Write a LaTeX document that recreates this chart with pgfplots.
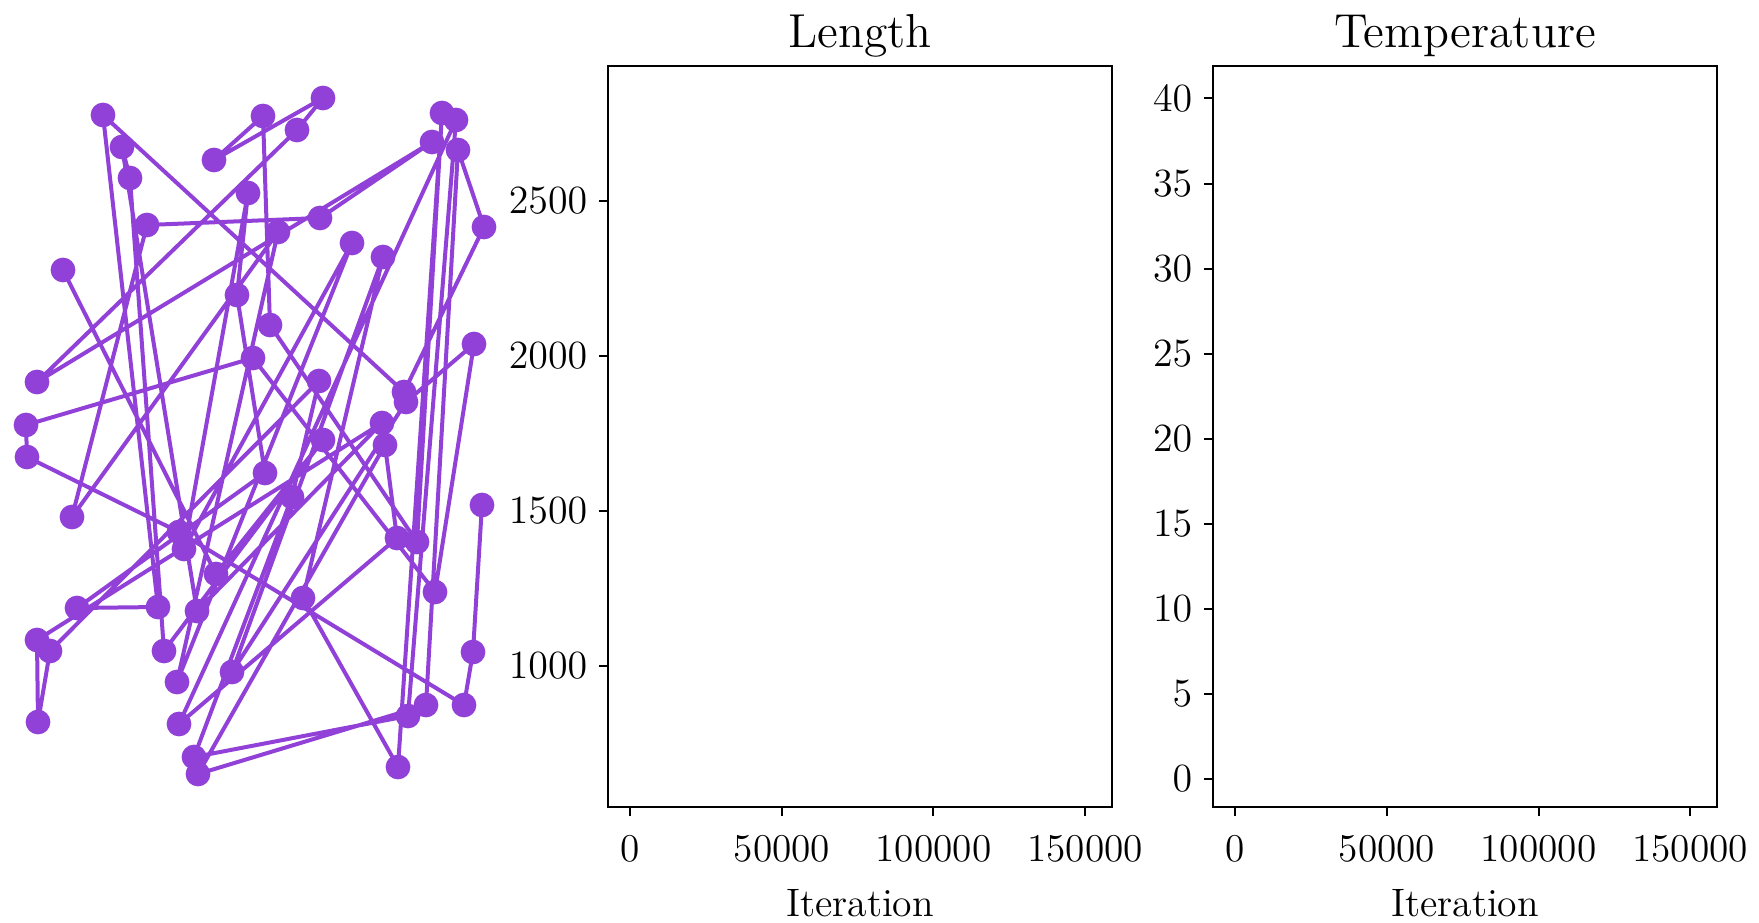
\documentclass[border=0pt]{standalone}
\usepackage{pgfplots}
\pgfplotsset{compat=1.18}
\definecolor{tour}{RGB}{145,65,215}
\pgfplotsset{
  panel/.style={
    anchor=south west, scale only axis, width=151.2pt, height=222.3pt,
    xmin=-7400, xmax=158900,
    axis line style={line width=0.6pt},
    tick align=outside, xtick pos=bottom, ytick pos=left,
    major tick length=2.7pt, tick style={black, line width=0.6pt},
    scaled ticks=false,
    /pgf/number format/1000 sep={},
    xtick={0,50000,100000,150000},
    xticklabels={0,50000,100000,150000},
    ticklabel style={font=\fontsize{11.8}{14}\selectfont},
    xticklabel style={yshift=-2.2pt},
    label style={font=\fontsize{11.9}{14}\selectfont},
    xlabel style={yshift=-1.2pt},
    title style={font=\fontsize{14.3}{17}\selectfont, yshift=-6.8pt},
    xlabel={Iteration},
  }
}
\begin{document}
\begin{tikzpicture}
\path[use as bounding box] (0,0) rectangle (527.7pt,276.6pt);
\begin{axis}[at={(0pt,0pt)}, anchor=south west, scale only axis,
  width=150pt, height=276.6pt, xmin=0, xmax=500, ymin=0, ymax=922,
  y dir=reverse, axis lines=none, clip=false]
\addplot[color=tour, line width=1.2pt, line join=round, line cap=round,
  mark=*, mark size=3.1pt,
  mark options={fill=tour, draw=none}] coordinates {
(63,270) (216,574) (323,440) (164,651) (130,178) (122,147) (197,611)
(382,423) (37,640) (38,722) (50,651) (319,381) (292,497) (194,757)
(408,716) (456,120) (179,724) (397,538) (385,445) (198,774) (426,705)
(458,150) (484,227) (404,392) (103,115) (158,607) (77,608) (265,473)
(237,295) (248,193) (184,549) (352,243) (177,682) (278,232) (72,517)
(147,225) (320,218) (432,142) (37,382) (297,130) (323,98) (214,160)
(263,116) (270,325) (417,542) (442,113) (398,767) (303,598) (383,257)
(232,672) (406,402) (474,344) (435,592) (253,358) (26,425) (27,457)
(179,532) (464,705) (473,652) (482,505)
};
\end{axis}
\begin{axis}[panel, at={(182.4pt,34.5pt)},
  ymin=543.5, ymax=2934.8, ytick={1000,1500,2000,2500},
  title={Length}]
\end{axis}
\begin{axis}[panel, at={(363.9pt,34.5pt)},
  ymin=-1.65, ymax=41.91, ytick={0,5,10,15,20,25,30,35,40},
  title={Temperature}]
\end{axis}
\end{tikzpicture}
\end{document}
